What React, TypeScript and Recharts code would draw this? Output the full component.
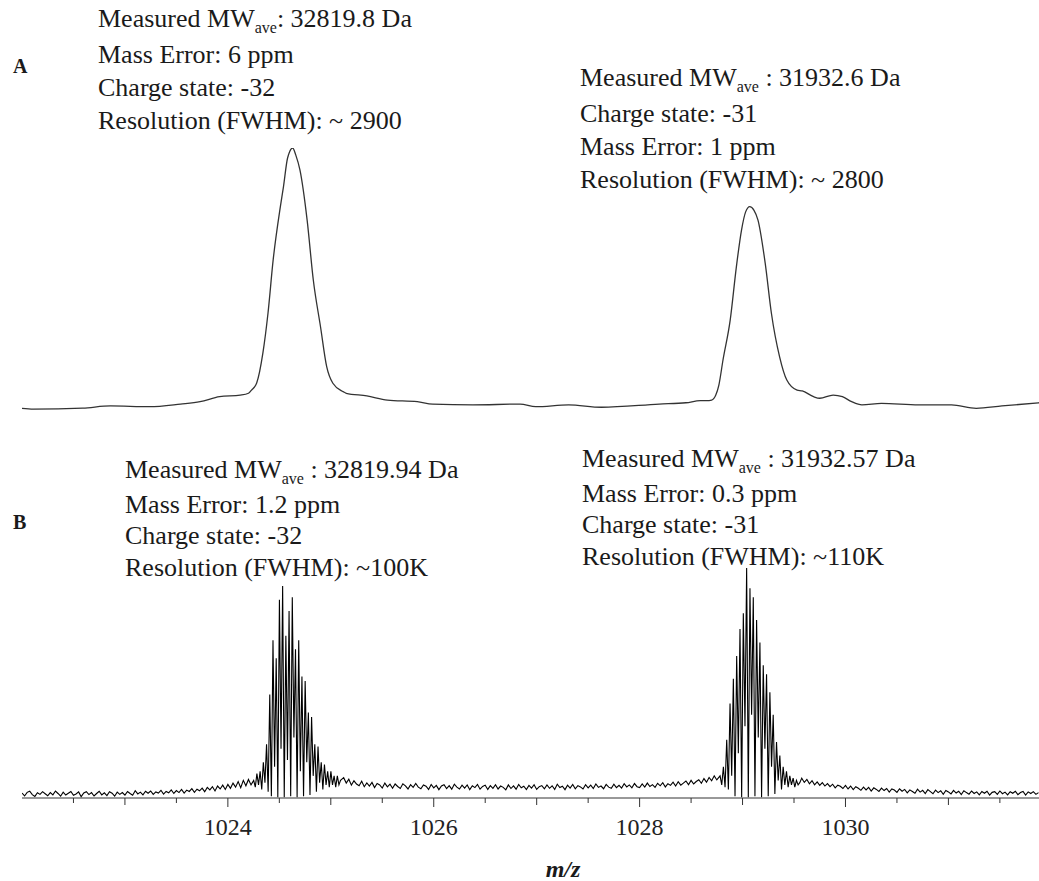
import { LineChart, Line, XAxis, YAxis } from 'recharts';

const X_DOMAIN: [number, number] = [1022, 1031.88];

// panel A - low resolution profile spectrum
const A_MZ = [
  1022.0, 1022.11, 1022.59, 1022.86, 1023.24, 1023.54, 1023.73, 1023.92, 1024.12, 1024.2,
  1024.23, 1024.28, 1024.34, 1024.39, 1024.44, 1024.51, 1024.54, 1024.58, 1024.63, 1024.66,
  1024.7, 1024.77, 1024.83, 1024.9, 1024.96, 1025.02, 1025.12, 1025.15, 1025.35, 1025.55,
  1025.84, 1025.99, 1026.38, 1026.84, 1026.99, 1027.31, 1027.63, 1028.19, 1028.45, 1028.59,
  1028.65, 1028.7, 1028.74, 1028.77, 1028.81, 1028.88, 1028.94, 1028.99, 1029.03, 1029.07,
  1029.11, 1029.15, 1029.22, 1029.28, 1029.36, 1029.43, 1029.53, 1029.58, 1029.69, 1029.75,
  1029.88, 1029.97, 1030.06, 1030.16, 1030.35, 1030.71, 1031.03, 1031.27, 1031.52, 1031.88,
];
const A_INT = [
  1.4, 1.1, 1.5, 2.3, 2.0, 3.0, 3.9, 5.8, 6.4, 7.1,
  8.3, 11.0, 22.3, 37.5, 57.6, 77.8, 85.3, 96.2, 100, 97.3,
  91.7, 72.7, 50.0, 32.3, 17.2, 10.9, 7.7, 7.1, 6.1, 4.5,
  3.9, 3.0, 2.7, 3.0, 2.0, 2.7, 1.8, 3.0, 3.5, 4.3,
  4.3, 4.5, 6.4, 10.2, 19.7, 34.8, 55.0, 68.9, 75.8, 77.8,
  76.5, 72.7, 56.4, 37.5, 20.9, 12.1, 8.3, 8.0, 5.8, 5.2,
  6.4, 5.8, 3.9, 2.7, 3.3, 2.7, 2.7, 1.4, 2.3, 3.5,
];

// panel B - baseline segments sampled every NOISE_STEP m/z
const NOISE_STEP = 0.025;
const NOISE1_START = 1022.0;
const NOISE1 = [
  0.4, -0.9, 0.7, 1.2, -0.3, -1.1, 0.5, -0.2, 1.0, 0.1,
  -0.8, 0.6, -0.4, 1.3, 0.2, -1.0, 0.8, -0.5, 0.3, 1.1,
  -0.6, 0.0, 0.9, -1.2, 0.4, 1.0, -0.3, 0.6, -0.9, 0.2,
  1.2, -0.4, 0.5, -0.7, 1.0, 0.3, -1.0, 0.8, -0.2, 0.6,
  -0.5, 1.1, 0.2, -0.6, 1.4, 0.0, 0.8, -0.4, 1.2, 0.3,
  1.3, -0.2, 0.9, 0.4, 1.6, -0.1, 1.1, 0.5, 1.8, 0.2,
  1.5, 0.6, 2.0, 0.4, 1.7, 1.1, 2.3, 0.7, 2.1, 1.4,
  2.6, 1.0, 2.9, 1.8, 3.2, 1.3, 3.5, 2.2, 3.9, 2.0,
  4.2, 2.5, 4.8, 3.0, 5.5, 2.8, 6.0, 3.6, 6.4, 4.0,
];
const NOISE2_START = 1025.125;
const NOISE2 = [
  7.2, 4.8, 6.5, 3.9, 5.8, 4.4, 3.6, 5.6, 3.2, 4.9,
  3.5, 5.1, 2.8, 4.6, 4.0, 2.6, 4.8, 3.1, 4.3, 2.5,
  4.4, 3.3, 2.4, 4.5, 3.6, 2.2, 4.1, 2.9, 4.6, 3.0,
  2.3, 4.0, 3.4, 2.0, 4.2, 2.7, 3.8, 1.9, 3.5, 4.1,
  2.4, 3.7, 2.1, 4.3, 3.0, 2.2, 3.9, 2.6, 4.0, 1.9,
  3.6, 2.8, 4.2, 2.1, 3.3, 3.9, 2.0, 3.7, 2.5, 4.1,
  2.2, 3.5, 2.9, 1.8, 4.0, 2.4, 3.6, 2.1, 4.2, 2.7,
  3.4, 1.9, 3.8, 2.6, 4.1, 2.0, 3.2, 3.7, 2.3, 4.0,
  2.5, 3.6, 2.0, 4.3, 2.8, 3.4, 1.9, 3.9, 2.6, 4.2,
  2.3, 3.7, 3.1, 2.2, 4.1, 2.7, 3.9, 2.4, 4.4, 2.9,
  3.5, 2.3, 4.2, 3.0, 2.5, 4.3, 2.8, 3.8, 2.6, 4.5,
  3.1, 4.0, 2.7, 4.6, 3.2, 2.8, 4.4, 3.0, 4.8, 3.3,
  4.1, 2.9, 4.7, 3.6, 5.0, 3.1, 4.5, 3.8, 5.2, 3.5,
  5.4, 3.9, 4.8, 5.7, 4.1, 6.0, 4.4, 5.5, 6.3, 4.7,
  6.8, 5.2, 7.3, 5.8, 8.0, 6.2,
];
const NOISE3_START = 1029.575;
const NOISE3 = [
  7.0, 5.1, 6.4, 4.5, 5.9, 4.0, 5.3, 3.8, 5.0, 3.5,
  4.6, 3.2, 4.3, 2.7, 3.9, 3.4, 2.4, 3.8, 2.2, 3.5,
  1.9, 3.2, 2.5, 1.6, 3.0, 1.8, 2.9, 1.3, 2.7, 2.0,
  1.1, 2.6, 1.5, 2.4, 0.8, 2.2, 1.7, 0.7, 2.3, 1.2,
  2.0, 0.5, 1.8, 1.1, 0.3, 2.1, 0.8, 1.6, 0.2, 1.9,
  1.0, 0.1, 1.7, 0.6, 1.4, -0.2, 1.5, 0.9, 0.0, 1.6,
  0.4, 1.2, -0.3, 1.4, 0.6, -0.1, 1.3, 0.2, 0.9, -0.4,
  1.1, 0.3, 1.2, -0.5, 0.7, 1.0, -0.2, 1.3, 0.1, 0.8,
  -0.4, 1.0, 0.3, 1.2, -0.3, 0.6, 1.1, -0.5, 0.9, 0.2,
  1.0, -0.2, 0.6,
];

// isotope clusters: first isotope m/z, charge, spike tops and the dips between them
const ISO1_START = 1024.2508;
const ISO1_CHARGE = 32;
const ISO1_PEAKS = [6, 9, 10, 14, 22, 44, 68, 60, 86, 92, 70, 81, 87, 64, 68, 52, 50, 36, 34, 22, 21, 14, 13, 10, 10, 8, 8, 6];
const ISO1_VALLEYS = [3, 4, 2, 5, 1, -1, 12, -1.5, 20, -1.5, 15, -1, 25, -1.5, 10, -1, 14, -0.5, 8, 1, 5, 2, 4, 3, 4, 3, 4];
const ISO2_START = 1028.7817;
const ISO2_CHARGE = 31;
const ISO2_PEAKS = [8, 12, 24, 40, 51, 61, 73, 80, 100, 91, 87, 77, 67, 57, 53, 45, 35, 23, 17, 12, 10, 8, 7, 6, 5];
const ISO2_VALLEYS = [4, 3, 2, 8, -1, 18, -1.5, 30, -1.5, 35, -1, 25, -1.5, 20, -1, 12, 0, 6, 2, 4, 3, 4, 3, 4];

const AXIS_TICKS = [1022.5, 1023, 1023.5, 1024, 1024.5, 1025, 1025.5, 1026, 1026.5, 1027, 1027.5, 1028, 1028.5, 1029, 1029.5, 1030, 1030.5, 1031, 1031.5];
const LABELED_TICKS = [1024, 1026, 1028, 1030];

const dataA = A_MZ.map((mz, i) => ({ mz, v: A_INT[i] }));

const noisePts = (start: number, vals: number[]) =>
  vals.map((v, i) => ({ mz: +(start + i * NOISE_STEP).toFixed(3), v }));

const isoPts = (start: number, z: number, peaks: number[], valleys: number[]) => {
  const out: { mz: number; v: number }[] = [];
  peaks.forEach((p, k) => {
    out.push({ mz: start + k / z, v: p });
    if (k < valleys.length) out.push({ mz: start + (k + 0.5) / z, v: valleys[k] });
  });
  return out;
};

const dataB = [
  ...noisePts(NOISE1_START, NOISE1),
  ...isoPts(ISO1_START, ISO1_CHARGE, ISO1_PEAKS, ISO1_VALLEYS),
  ...noisePts(NOISE2_START, NOISE2),
  ...isoPts(ISO2_START, ISO2_CHARGE, ISO2_PEAKS, ISO2_VALLEYS),
  ...noisePts(NOISE3_START, NOISE3),
].sort((a, b) => a.mz - b.mz);

const SERIF = '"Liberation Serif", "Times New Roman", serif';

const MzTick = (props: any) => {
  const { x, y, payload } = props;
  const val = payload.value;
  const labeled = LABELED_TICKS.includes(val);
  const len = labeled ? 9 : Number.isInteger(val) ? 7 : 5;
  return (
    <g>
      <line x1={x} x2={x} y1={y} y2={y + len} stroke="#333" strokeWidth={1} />
      {labeled && (
        <text x={x} y={y + 37} textAnchor="middle" fontFamily={SERIF} fontSize={24} fill="#222">
          {val}
        </text>
      )}
    </g>
  );
};

const Sub = () => (
  <sub style={{ fontSize: 16, verticalAlign: 'baseline', position: 'relative', top: 6 }}>ave</sub>
);

const block = (left: number, top: number, lh: number): React.CSSProperties => ({
  position: 'absolute',
  left,
  top,
  fontFamily: SERIF,
  fontSize: 26,
  lineHeight: `${lh}px`,
  color: '#1a1a1a',
  whiteSpace: 'nowrap',
});

const panelLabel = (top: number): React.CSSProperties => ({
  position: 'absolute',
  left: 13,
  top,
  fontFamily: SERIF,
  fontSize: 20,
  fontWeight: 'bold',
  lineHeight: '24px',
  color: '#1a1a1a',
});

export default function App() {
  return (
    <div style={{ position: 'absolute', left: 0, top: 0, width: 1039, height: 881, background: '#fff', overflow: 'hidden' }}>
      <div style={{ position: 'absolute', left: 0, top: 0 }}>
        <LineChart width={1039} height={440} data={dataA} margin={{ top: 148, right: 0, bottom: 28, left: 22 }}>
          <XAxis dataKey="mz" type="number" domain={X_DOMAIN} allowDataOverflow hide />
          <YAxis type="number" domain={[0, 100]} allowDataOverflow hide />
          <Line type="monotone" dataKey="v" stroke="#333" strokeWidth={1.3} dot={false} isAnimationActive={false} />
        </LineChart>
      </div>
      <div style={{ position: 'absolute', left: 0, top: 440 }}>
        <LineChart width={1039} height={441} data={dataB} margin={{ top: 128, right: 0, bottom: 43, left: 22 }}>
          <XAxis
            dataKey="mz"
            type="number"
            domain={X_DOMAIN}
            allowDataOverflow
            ticks={AXIS_TICKS}
            interval={0}
            height={40}
            tickSize={0}
            tickMargin={0}
            tickLine={false}
            axisLine={{ stroke: '#333', strokeWidth: 1 }}
            tick={MzTick}
          />
          <YAxis type="number" domain={[-1.8, 100]} allowDataOverflow hide />
          <Line type="linear" dataKey="v" stroke="#000" strokeWidth={1.1} dot={false} isAnimationActive={false} />
        </LineChart>
      </div>

      <div style={panelLabel(54)}>A</div>
      <div style={panelLabel(510)}>B</div>

      <div style={block(98, 2, 33)}>
        <div>Measured MW<Sub />: 32819.8 Da</div>
        <div>Mass Error: 6 ppm</div>
        <div>Charge state: -32</div>
        <div>Resolution (FWHM): ~ 2900</div>
      </div>
      <div style={block(580, 61, 33)}>
        <div>Measured MW<Sub /> : 31932.6 Da</div>
        <div>Charge state: -31</div>
        <div>Mass Error: 1 ppm</div>
        <div>Resolution (FWHM): ~ 2800</div>
      </div>
      <div style={block(125, 454, 31.5)}>
        <div>Measured MW<Sub /> : 32819.94 Da</div>
        <div>Mass Error: 1.2 ppm</div>
        <div>Charge state: -32</div>
        <div>Resolution (FWHM): ~100K</div>
      </div>
      <div style={block(582, 443, 31.5)}>
        <div>Measured MW<Sub /> : 31932.57 Da</div>
        <div>Mass Error: 0.3 ppm</div>
        <div>Charge state: -31</div>
        <div>Resolution (FWHM): ~110K</div>
      </div>

      <div
        style={{
          position: 'absolute',
          left: 563,
          top: 855,
          transform: 'translateX(-50%)',
          fontFamily: SERIF,
          fontSize: 24,
          fontWeight: 'bold',
          fontStyle: 'italic',
          lineHeight: '28px',
          color: '#1a1a1a',
        }}
      >
        m/z
      </div>
    </div>
  );
}
